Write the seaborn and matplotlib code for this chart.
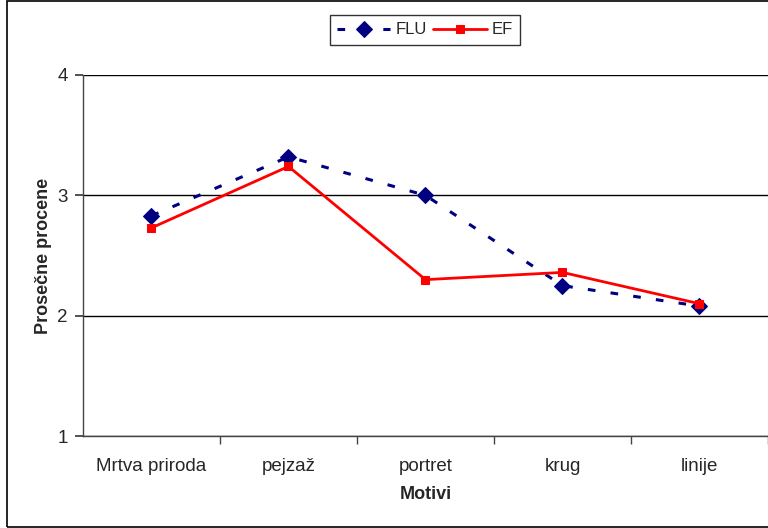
import matplotlib
matplotlib.use("Agg")
import matplotlib.pyplot as plt
import pandas as pd
import seaborn as sns
from matplotlib.patches import Rectangle

motivi = ["Mrtva priroda", "pejzaž", "portret", "krug", "linije"]
flu = [2.83, 3.32, 3.00, 2.25, 2.08]
ef = [2.73, 3.24, 2.30, 2.36, 2.10]

df = pd.DataFrame({"Motivi": motivi * 2,
                   "value": flu + ef,
                   "grupa": ["FLU"] * 5 + ["EF"] * 5})

sns.set_style("white")
plt.rcParams['font.family'] = ['Liberation Sans', 'DejaVu Sans']
plt.rcParams['ytick.left'] = True
plt.rcParams['xtick.bottom'] = True

fig = plt.figure(figsize=(7.68, 5.28), dpi=100)
ax = fig.add_axes([0.108, 0.174, 0.892, 0.684])

sns.lineplot(data=df[df.grupa == "FLU"], x="Motivi", y="value", ax=ax,
             color="#000080", marker="D", markersize=8, linewidth=2.2,
             label="FLU", markeredgecolor="#000080")
ax.lines[-1].set_dashes([2.5, 5])
sns.lineplot(data=df[df.grupa == "EF"], x="Motivi", y="value", ax=ax,
             color="#ff0000", marker="s", markersize=6, linewidth=2,
             label="EF", markeredgecolor="#ff0000")

ax.set_xlim(-0.5, 4.5)
ax.set_ylim(1, 4)
ax.set_yticks([1, 2, 3, 4])
ax.yaxis.set_ticks_position("left")
ax.set_xticks(range(5))
ax.set_xticklabels(motivi)
ax.set_xticks([0.5, 1.5, 2.5, 3.5, 4.5], minor=True)
ax.tick_params(axis="x", which="major", bottom=False, labelsize=13.5, pad=12)
ax.tick_params(axis="x", which="minor", bottom=True, length=6, width=1,
               direction="out", color="#444444")
ax.tick_params(axis="y", which="major", left=True, length=6, width=1.2,
               direction="out", labelsize=13.5, color="#333333", pad=5)
ax.yaxis.grid(True, color="black", linewidth=1)
ax.xaxis.grid(False)
for s in ["top", "right"]:
    ax.spines[s].set_visible(False)
for s in ["left", "bottom"]:
    ax.spines[s].set_color("#444444")
    ax.spines[s].set_linewidth(1)

ax.set_xlabel("Motivi", fontsize=13, fontweight="bold", labelpad=8)
ax.set_ylabel("Prosečne procene", fontsize=13, fontweight="bold", labelpad=4)

leg = ax.legend(loc="center", bbox_to_anchor=(425 / 768, 1 - 30 / 528),
                bbox_transform=fig.transFigure, ncol=2, frameon=True,
                fancybox=False, edgecolor="black", fontsize=12,
                handlelength=3.2, columnspacing=0.4, handletextpad=0.3,
                borderpad=0.45)
leg.get_frame().set_linewidth(1)

# outer chart border
fig.patches.append(Rectangle((7 / 768, 1 / 528), 1.2, 526 / 528,
                             transform=fig.transFigure, fill=False,
                             edgecolor="black", linewidth=1.2))

fig.savefig("out.png", dpi=100)
